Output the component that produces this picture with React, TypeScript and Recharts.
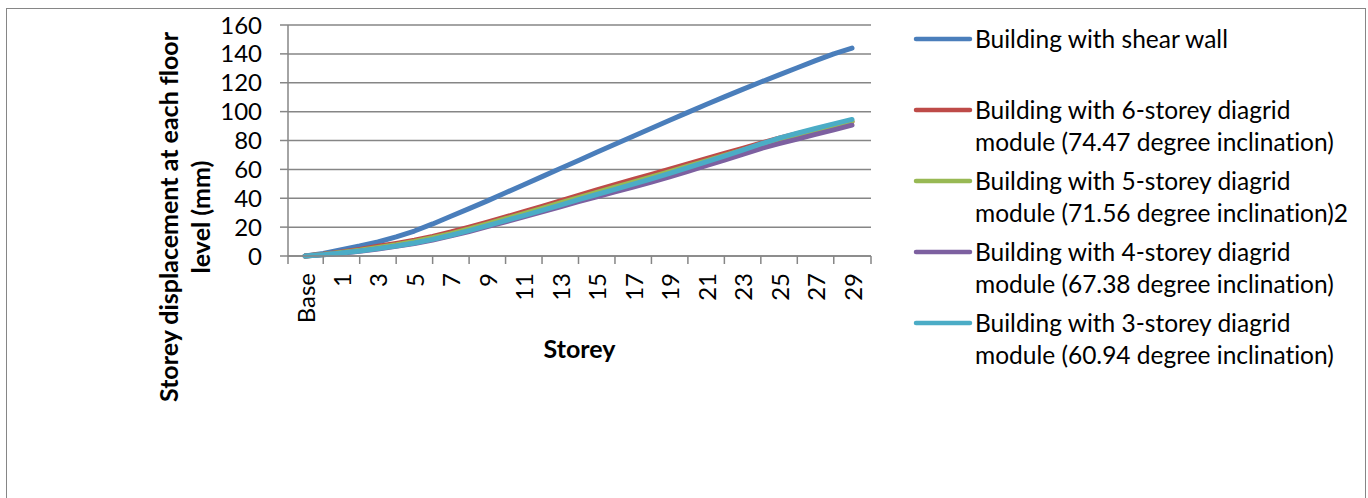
import { CartesianGrid, Line, LineChart, XAxis, YAxis } from 'recharts'

// storey labels (every other one is shown on the axis, like the excel chart)
const storeys = [
  'Base', 'G', '1', '2', '3', '4', '5', '6', '7', '8', '9', '10', '11', '12', '13', '14', '15',
  '16', '17', '18', '19', '20', '21', '22', '23', '24', '25', '26', '27', '28', '29',
]

const shearWall = [
  0, 1.8, 4.4, 6.9, 9.7, 13.3, 17.3, 22.2, 27.5, 32.8, 38.2, 43.8, 49.4, 55.0, 60.6, 66.2,
  71.8, 77.4, 83.0, 88.5, 94.0, 99.5, 104.9, 110.2, 115.4, 120.5, 125.5, 130.4, 135.3, 140.0, 144.0,
]
const diagrid6 = [
  0, 1.2, 2.8, 4.6, 6.7, 8.7, 10.9, 13.6, 16.6, 19.9, 23.4, 27.0, 30.7, 34.4, 38.2, 42.0,
  45.7, 49.4, 53.0, 56.6, 60.2, 63.8, 67.4, 71.0, 74.6, 78.2, 81.6, 84.7, 87.6, 90.4, 93.0,
]
const diagrid5 = [
  0, 1.0, 2.4, 4.0, 5.9, 7.8, 10.0, 12.6, 15.5, 18.8, 22.2, 25.8, 29.4, 33.0, 36.7, 40.4,
  44.0, 47.6, 51.2, 54.8, 58.5, 62.2, 65.9, 69.6, 73.3, 77.0, 80.6, 84.0, 87.2, 90.2, 93.4,
]
const diagrid4 = [
  0, 0.8, 1.9, 3.3, 4.9, 6.7, 8.7, 11.1, 13.9, 17.0, 20.3, 23.7, 27.1, 30.6, 34.1, 37.6,
  41.0, 44.4, 47.8, 51.2, 54.8, 58.7, 62.6, 66.5, 70.4, 74.4, 77.8, 81.0, 84.2, 87.4, 90.6,
]
const diagrid3 = [
  0, 0.8, 2.0, 3.4, 5.1, 6.9, 9.0, 11.5, 14.4, 17.6, 21.0, 24.5, 28.0, 31.6, 35.3, 39.0,
  42.6, 46.2, 49.8, 53.4, 57.2, 61.2, 65.2, 69.2, 73.3, 77.6, 81.6, 85.0, 88.3, 91.5, 94.6,
]

// legend text, wrapped where excel wrapped it
const seriesNames = [
  'Building with shear wall',
  'Building with 6-storey diagrid\nmodule (74.47 degree inclination)',
  'Building with 5-storey diagrid\nmodule (71.56 degree inclination)2',
  'Building with 4-storey diagrid\nmodule (67.38 degree inclination)',
  'Building with 3-storey diagrid\nmodule (60.94 degree inclination)',
]
const yTicks = [0, 20, 40, 60, 80, 100, 120, 140, 160]

const series = [
  { key: 'shearWall', name: seriesNames[0], color: '#4A7EBB', values: shearWall },
  { key: 'diagrid6', name: seriesNames[1], color: '#BE4B48', values: diagrid6 },
  { key: 'diagrid5', name: seriesNames[2], color: '#98B954', values: diagrid5 },
  { key: 'diagrid4', name: seriesNames[3], color: '#7D60A0', values: diagrid4 },
  { key: 'diagrid3', name: seriesNames[4], color: '#4BACC6', values: diagrid3 },
]

const data = storeys.map((storey, i) => {
  const row: Record<string, string | number> = { storey }
  series.forEach((s) => (row[s.key] = s.values[i]))
  return row
})

const FONT = 'Lato, Carlito, Calibri, sans-serif'
const AXIS = '#868686'
const PAD_L = 17
const PAD_R = 19
const LABEL_GAP = 17

function StoreyTick(props: any) {
  const { x, y, payload, index, visibleTicksCount } = props
  const axisY = y - LABEL_GAP
  const mark = (px: number) => <line x1={px} x2={px} y1={axisY} y2={axisY + 8} stroke={AXIS} strokeWidth={1.5} />
  return (
    <g>
      {index % 2 === 1 && mark(x)}
      {index === 0 && mark(x - PAD_L)}
      {index === visibleTicksCount - 1 && mark(x + PAD_R)}
      {index % 2 === 0 && (
        <text
          transform={`translate(${x},${y}) rotate(-90)`}
          textAnchor="end"
          dominantBaseline="central"
          fontSize={24}
          fontFamily={FONT}
          fill="#000"
        >
          {payload.value}
        </text>
      )}
    </g>
  )
}

function YTitle() {
  return (
    <text
      transform="translate(184,217) rotate(-90)"
      textAnchor="middle"
      fontSize={25}
      fontWeight={700}
      fontFamily={FONT}
      fill="#000"
      style={{ fontVariantLigatures: 'none' }}
    >
      <tspan x={0} y={-16} dominantBaseline="central">Storey displacement at each floor</tspan>
      <tspan x={0} y={16} dominantBaseline="central">level (mm)</tspan>
    </text>
  )
}

export default function App() {
  return (
    <div style={{ position: 'relative', width: 1368, height: 498, overflow: 'hidden', background: '#fff', fontFamily: FONT }}>
      <style>{'body{margin:0}'}</style>
      <div
        style={{
          position: 'absolute', left: 6, top: 8, width: 1358, height: 560,
          border: '1.5px solid #868686',
        }}
      />
      <div style={{ position: 'absolute', left: 0, top: 0 }}>
        <LineChart width={1368} height={498} data={data} margin={{ top: 25, right: 497, bottom: 0, left: 0 }}>
          <CartesianGrid horizontal vertical={false} stroke={AXIS} strokeWidth={1.5} />
          <XAxis
            dataKey="storey"
            interval={0}
            height={242}
            padding={{ left: PAD_L, right: PAD_R }}
            axisLine={{ stroke: AXIS, strokeWidth: 1.5 }}
            tickLine={false}
            tickSize={0}
            tickMargin={LABEL_GAP}
            tick={<StoreyTick />}
            label={{ value: 'Storey', position: 'insideTop', offset: 84, fontSize: 25, fontWeight: 700, fill: '#000', fontFamily: FONT }}
          />
          <YAxis
            width={288}
            domain={[0, 160]}
            ticks={yTicks}
            interval={0}
            axisLine={{ stroke: AXIS, strokeWidth: 1.5 }}
            tickLine={{ stroke: AXIS, strokeWidth: 1.5 }}
            tickSize={8}
            tickMargin={18}
            tick={{ fontSize: 24, fill: '#000', fontFamily: FONT }}
            label={<YTitle />}
          />
          {series.map((s) => (
            <Line
              key={s.key}
              type="linear"
              dataKey={s.key}
              name={s.name}
              stroke={s.color}
              strokeWidth={5}
              strokeLinecap="round"
              strokeLinejoin="round"
              dot={false}
              activeDot={false}
              isAnimationActive={false}
            />
          ))}
        </LineChart>
      </div>
      <div style={{ position: 'absolute', left: 913, top: 23, fontVariantLigatures: 'none' }}>
        {series.map((s) => (
          <div key={s.key} style={{ display: 'flex', alignItems: 'flex-start', height: 71 }}>
            <svg width={60} height={32} style={{ flex: 'none' }}>
              <line x1={3} x2={57} y1={16} y2={16} stroke={s.color} strokeWidth={4.5} strokeLinecap="round" />
            </svg>
            <div style={{ fontSize: 24.5, lineHeight: '31.7px', color: '#000', marginLeft: 2, whiteSpace: 'pre-line' }}>
              {s.name}
            </div>
          </div>
        ))}
      </div>
    </div>
  )
}
